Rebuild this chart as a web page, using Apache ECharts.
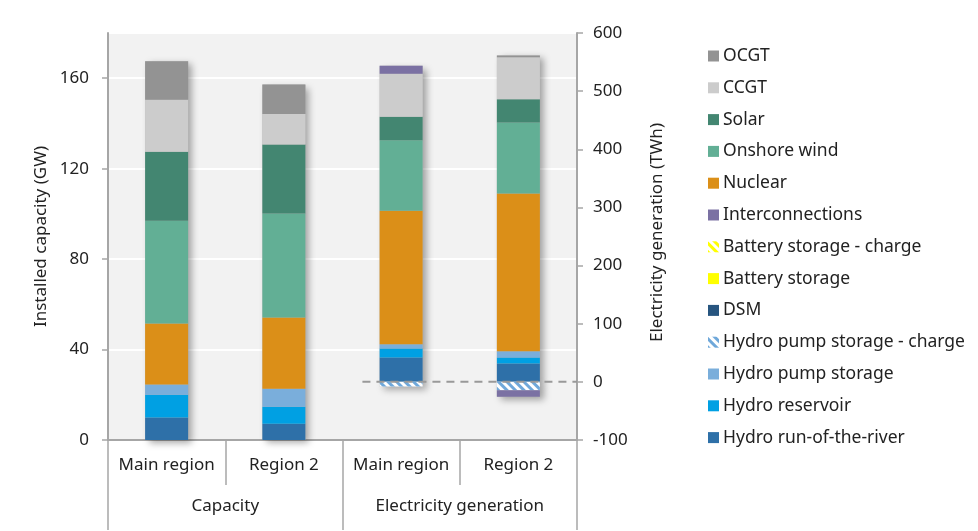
<!DOCTYPE html>
<html>
<head>
<meta charset="utf-8">
<script src="https://cdn.jsdelivr.net/npm/echarts@6/dist/echarts.min.js"></script>
<style>
  html, body { margin: 0; padding: 0; background: #fff; }
  #main { width: 978px; height: 531px; }
</style>
</head>
<body>
<div id="main"></div>
<script>
// categories: two capacity bars (GW, left axis) and two generation bars (TWh, right axis)
var categories = ['Main region', 'Region 2', 'Main region', 'Region 2'];
var groups = ['Capacity', 'Electricity generation'];

// capacity, GW  [Main region, Region 2]
var capRunRiver   = [10, 7.2];
var capReservoir  = [10, 7.5];
var capPump       = [4.5, 8];
var capNuclear    = [27, 31.5];
var capOnshore    = [45.5, 46];
var capSolar      = [30.5, 30.5];
var capCCGT       = [23, 13.5];
var capOCGT       = [17, 13];

// generation, TWh  [Main region, Region 2]
var genRunRiver   = [42, 31.5];
var genReservoir  = [15.5, 10.5];
var genPump       = [7, 10.5];
var genPumpCharge = [-8, -14.5];
var genNuclear    = [230, 271.5];
var genOnshore    = [121, 122];
var genSolar      = [40.5, 40];
var genCCGT       = [74, 72.5];
var genOCGT       = [0, 3];
var genInterconn  = [13.5, -11];

var capTicks = [0, 180, 40];
var genTicks = [-100, 600, 100];
var zeroLineX = [2.17, 4];

var legendOrder = ['OCGT', 'CCGT', 'Solar', 'Onshore wind', 'Nuclear', 'Interconnections',
  'Battery storage - charge', 'Battery storage', 'DSM', 'Hydro pump storage - charge',
  'Hydro pump storage', 'Hydro reservoir', 'Hydro run-of-the-river'];

var FONT = 'Noto Sans';
var TXT = '#222';
var AXC = '#a6a6a6';

var chart = echarts.init(document.getElementById('main'));

function capData(a) { return a ? [a[0], a[1], '-', '-'] : ['-', '-', '-', '-']; }
function genData(a) { return a ? ['-', '-', a[0], a[1]] : ['-', '-', '-', '-']; }

var hatch = {
  symbol: 'rect', symbolSize: 1, dashArrayX: [1, 0], dashArrayY: [3, 3],
  rotation: Math.PI / 4
};

// stack order, bottom to top
var techs = [
  { name: 'Hydro run-of-the-river', color: '#2e70a8', cap: capRunRiver, gen: genRunRiver },
  { name: 'Hydro reservoir', color: '#00a0e3', cap: capReservoir, gen: genReservoir },
  { name: 'Hydro pump storage', color: '#7aaedb', cap: capPump, gen: genPump },
  { name: 'Hydro pump storage - charge', color: '#ffffff', cap: null, gen: genPumpCharge,
    decal: Object.assign({ color: '#6fa8da' }, hatch) },
  { name: 'DSM', color: '#27557f', cap: null, gen: null },
  { name: 'Battery storage', color: '#ffff00', cap: null, gen: null },
  { name: 'Battery storage - charge', color: '#ffffff', cap: null, gen: null,
    decal: Object.assign({ color: '#ffff00' }, hatch) },
  { name: 'Nuclear', color: '#db8f18', cap: capNuclear, gen: genNuclear },
  { name: 'Onshore wind', color: '#62af95', cap: capOnshore, gen: genOnshore },
  { name: 'Solar', color: '#438671', cap: capSolar, gen: genSolar },
  { name: 'CCGT', color: '#cccccc', cap: capCCGT, gen: genCCGT },
  { name: 'OCGT', color: '#939393', cap: capOCGT, gen: genOCGT },
  { name: 'Interconnections', color: '#7b71a3', cap: null, gen: genInterconn }
];

var series = [];
var barW = 43;

// soft drop shadow behind each column
function sums(key, sign) {
  var out = [0, 0];
  techs.forEach(function (t) {
    if (!t[key]) return;
    for (var i = 0; i < 2; i++) {
      var v = t[key][i];
      if (sign > 0 && v > 0) out[i] += v;
      if (sign < 0 && v < 0) out[i] += v;
    }
  });
  return out;
}
var shadowStyle = {
  color: '#bbb', shadowColor: 'rgba(0,0,0,0.35)', shadowBlur: 7,
  shadowOffsetX: 4, shadowOffsetY: 3
};
[['cap', 1, 0], ['gen', 1, 1], ['gen', -1, 1]].forEach(function (s) {
  var tot = sums(s[0], s[1]);
  series.push({
    type: 'bar', name: '_shadow', silent: true, z: 1,
    yAxisIndex: s[2], barWidth: barW, barGap: '-100%',
    data: s[0] === 'cap' ? capData(tot) : genData(tot),
    itemStyle: shadowStyle
  });
});

techs.forEach(function (t) {
  var style = { color: t.color };
  if (t.decal) style.decal = t.decal;
  series.push({
    type: 'bar', name: t.name, stack: 'cap', yAxisIndex: 0,
    barWidth: barW, barGap: '-100%', data: capData(t.cap), itemStyle: style
  });
  series.push({
    type: 'bar', name: t.name, stack: 'gen', yAxisIndex: 1,
    barWidth: barW, barGap: '-100%', data: genData(t.gen), itemStyle: style
  });
});

// dashed zero line for generation
series.push({
  type: 'line', xAxisIndex: 2, yAxisIndex: 1, symbol: 'none', silent: true, z: 3,
  data: [[zeroLineX[0], 0], [zeroLineX[1], 0]],
  lineStyle: { color: '#999', width: 2, type: [8, 6] }
});

var option = {
  animation: false,
  textStyle: { fontFamily: FONT },
  grid: {
    left: 108, right: 401, top: 33, bottom: 91,
    show: true, backgroundColor: '#f2f2f2', borderWidth: 0
  },
  legend: {
    data: legendOrder, orient: 'vertical', left: 703, top: 42,
    itemWidth: 11, itemHeight: 11, itemGap: 13.8, icon: 'rect',
    selectedMode: false,
    textStyle: { fontFamily: FONT, fontSize: 17.5, color: TXT, padding: [0, 0, 0, -1] }
  },
  xAxis: [
    {
      type: 'category', data: categories, position: 'bottom',
      axisLine: { show: true, onZero: false, lineStyle: { color: AXC, width: 2 } },
      axisTick: { show: true, interval: 0, length: 45, lineStyle: { color: AXC, width: 1.5 } },
      axisLabel: { interval: 0, margin: 17, fontSize: 17, color: TXT, fontFamily: FONT },
      splitLine: { show: false }
    },
    {
      type: 'category', data: groups, position: 'bottom',
      axisLine: { show: false, onZero: false },
      axisTick: { show: true, interval: 0, length: 90, lineStyle: { color: AXC, width: 1.5 } },
      axisLabel: { interval: 0, margin: 58, fontSize: 17, color: TXT, fontFamily: FONT },
      splitLine: { show: false }
    },
    { type: 'value', show: false, min: 0, max: 4, axisLine: { onZero: false } }
  ],
  yAxis: [
    {
      type: 'value', min: capTicks[0], max: capTicks[1], interval: capTicks[2],
      name: 'Installed capacity (GW)', nameLocation: 'middle', nameGap: 58, nameRotate: 90,
      nameTextStyle: { fontSize: 17, color: TXT, fontFamily: FONT },
      axisLine: { show: true, onZero: false, lineStyle: { color: AXC, width: 2 } },
      axisTick: { show: true, length: 6, lineStyle: { color: AXC, width: 1.5 } },
      axisLabel: { margin: 19, fontSize: 17, color: TXT, fontFamily: FONT, showMaxLabel: false },
      splitLine: { show: true, lineStyle: { color: '#ffffff', width: 2 } }
    },
    {
      type: 'value', min: genTicks[0], max: genTicks[1], interval: genTicks[2],
      position: 'right',
      name: 'Electricity generation (TWh)', nameLocation: 'middle', nameGap: 72, nameRotate: 90,
      nameTextStyle: { fontSize: 17, color: TXT, fontFamily: FONT, padding: [0, 0, 0, 8] },
      axisLine: { show: true, onZero: false, lineStyle: { color: AXC, width: 2 } },
      axisTick: { show: true, length: 6, lineStyle: { color: AXC, width: 1.5 } },
      axisLabel: { margin: 16, fontSize: 17, color: TXT, fontFamily: FONT },
      splitLine: { show: false }
    }
  ],
  series: series
};

chart.setOption(option);
</script>
</body>
</html>
